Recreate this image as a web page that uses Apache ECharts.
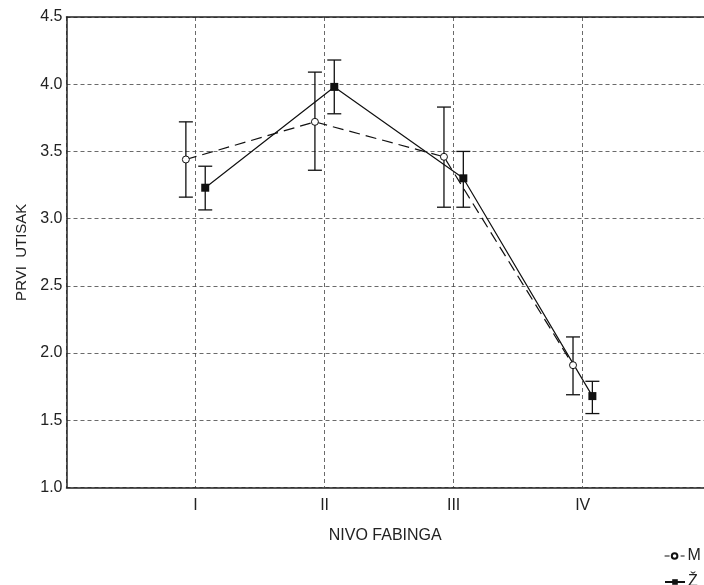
<!DOCTYPE html>
<html>
<head>
<meta charset="utf-8">
<script src="https://cdn.jsdelivr.net/npm/echarts@6/dist/echarts.min.js"></script>
<style>html,body{margin:0;padding:0;background:#fff;}#chart{width:704px;height:585px;}</style>
</head>
<body>
<div id="chart"></div>
<script>
const categories = ['I', 'II', 'III', 'IV'];
const yTicks = [1.0, 1.5, 2.0, 2.5, 3.0, 3.5, 4.0, 4.5];
const seriesNames = ['M', 'Ž'];
const mMean = [3.44, 3.72, 3.46, 1.91];
const mLow  = [3.16, 3.36, 3.085, 1.69];
const mHigh = [3.72, 4.09, 3.83, 2.12];
const zMean = [3.23, 3.98, 3.30, 1.68];
const zLow  = [3.065, 3.78, 3.085, 1.55];
const zHigh = [3.39, 4.18, 3.50, 1.79];

const OFF = 0.075;
const X_MAX = 4.94;
const FONT = 'Liberation Sans, Arial, sans-serif';
const TXT = '#222';

function pts(mean, off) { return mean.map((v, i) => [i + 1 + off, v]); }
function errs(low, high, off) { return low.map((l, i) => [i + 1 + off, l, high[i]]); }

function errRender(params, api) {
  const x = api.value(0);
  const lo = api.coord([x, api.value(1)]);
  const hi = api.coord([x, api.value(2)]);
  const hw = 7;
  const style = { stroke: '#111', lineWidth: 1.3, fill: null };
  return {
    type: 'group',
    children: [
      { type: 'line', shape: { x1: lo[0], y1: lo[1], x2: hi[0], y2: hi[1] }, style },
      { type: 'line', shape: { x1: lo[0] - hw, y1: lo[1], x2: lo[0] + hw, y2: lo[1] }, style },
      { type: 'line', shape: { x1: hi[0] - hw, y1: hi[1], x2: hi[0] + hw, y2: hi[1] }, style }
    ]
  };
}

function legendAt(top, item) {
  return {
    orient: 'horizontal', left: 664, top: top, padding: 0, itemWidth: 20, itemHeight: 7,
    textStyle: { fontFamily: FONT, fontSize: 16, color: TXT, padding: [0, 0, 0, -2] },
    data: [item]
  };
}

const chart = echarts.init(document.getElementById('chart'), null, { renderer: 'canvas' });
chart.setOption({
  animation: false,
  backgroundColor: '#fff',
  textStyle: { fontFamily: FONT },
  grid: { left: 66.5, top: 17, right: 0, height: 470.5, show: false },
  legend: [
    legendAt(548, { name: seriesNames[0], lineStyle: { type: [5, 3], width: 1.2, color: '#111' } }),
    legendAt(574, { name: seriesNames[1] })
  ],
  xAxis: [{
    type: 'value', min: 0, max: X_MAX, interval: 1,
    name: 'NIVO FABINGA', nameLocation: 'middle', nameGap: 40,
    nameTextStyle: { fontFamily: FONT, fontSize: 16, color: TXT },
    axisLine: { show: true, onZero: false, lineStyle: { color: '#222', width: 1.5 } },
    axisTick: { show: false },
    axisLabel: { fontFamily: FONT, fontSize: 16, color: TXT, margin: 10, showMaxLabel: false,
      formatter: v => (v >= 1 && v <= categories.length && Number.isInteger(v)) ? categories[v - 1] : '' },
    splitLine: { show: true, lineStyle: { color: '#444', type: [4, 3], width: 0.8 } }
  }, {
    type: 'value', position: 'top', min: 0, max: X_MAX,
    axisLine: { show: true, onZero: false, lineStyle: { color: '#222', width: 1.5 } },
    axisTick: { show: false }, axisLabel: { show: false }, splitLine: { show: false }
  }],
  yAxis: {
    type: 'value', min: yTicks[0], max: yTicks[yTicks.length - 1], interval: 0.5,
    name: 'PRVI  UTISAK', nameLocation: 'middle', nameGap: 37, nameRotate: 90,
    nameTextStyle: { fontFamily: FONT, fontSize: 15, color: TXT },
    axisLine: { show: true, lineStyle: { color: '#222', width: 1.5 } },
    axisTick: { show: false },
    axisLabel: { fontFamily: FONT, fontSize: 16, color: TXT, margin: 4, formatter: v => v.toFixed(1) },
    splitLine: { show: true, lineStyle: { color: '#444', type: [4, 3], width: 0.8 } }
  },
  series: [
    { name: seriesNames[0], type: 'line', data: pts(mMean, -OFF), symbol: 'circle', symbolSize: 7,
      lineStyle: { color: '#111', width: 1.2, type: [11, 6] },
      itemStyle: { color: '#fff', borderColor: '#111', borderWidth: 1 }, z: 3 },
    { name: seriesNames[1], type: 'line', data: pts(zMean, OFF), symbol: 'rect', symbolSize: 8,
      lineStyle: { color: '#111', width: 1.2, type: 'solid' },
      itemStyle: { color: '#111', borderColor: '#111', borderWidth: 0 }, z: 3 },
    { type: 'custom', renderItem: errRender, data: errs(mLow, mHigh, -OFF), z: 2, silent: true },
    { type: 'custom', renderItem: errRender, data: errs(zLow, zHigh, OFF), z: 2, silent: true }
  ]
});
</script>
</body>
</html>
